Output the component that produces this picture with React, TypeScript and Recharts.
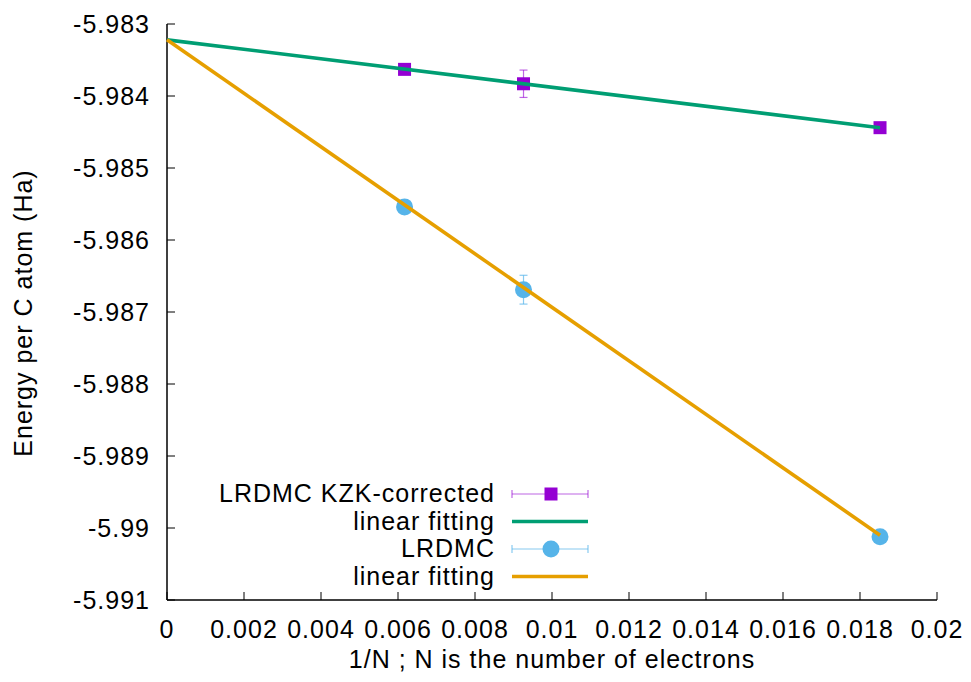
import React from 'react';
import { ScatterChart, Scatter, XAxis, YAxis, ErrorBar } from 'recharts';

// ---- data ----
const invN = [0.00617, 0.00926, 0.01852];
const kzkEnergy = [-5.98363, -5.98383, -5.98444];
const kzkErr = [0.00003, 0.00019, 0.00002];
const lrdmcEnergy = [-5.98554, -5.98669, -5.99012];
const lrdmcErr = [0.00003, 0.0002, 0.00003];
const fitX = [0, 0.01852];
const kzkFitY = [-5.98322, -5.98444];
const lrdmcFitY = [-5.98322, -5.9901];
const xTicks = [0, 0.002, 0.004, 0.006, 0.008, 0.01, 0.012, 0.014, 0.016, 0.018, 0.02];
const yTicks = [-5.991, -5.99, -5.989, -5.988, -5.987, -5.986, -5.985, -5.984, -5.983];
const legendNames = ['LRDMC KZK-corrected', 'linear fitting', 'LRDMC', 'linear fitting'];
const xTitle = '1/N ; N is the number of electrons';
const yTitle = 'Energy per C atom (Ha)';

const PURPLE = '#9400d3';
const GREEN = '#009e73';
const SKY = '#56b4e9';
const ORANGE = '#e69f00';

const kzkData = invN.map((x, i) => ({ x, y: kzkEnergy[i], err: kzkErr[i] }));
const lrdmcData = invN.map((x, i) => ({ x, y: lrdmcEnergy[i], err: lrdmcErr[i] }));
const kzkFit = fitX.map((x, i) => ({ x, y: kzkFitY[i] }));
const lrdmcFit = fitX.map((x, i) => ({ x, y: lrdmcFitY[i] }));

const fmt = (v: number) => {
  const s = v.toFixed(3).replace(/0+$/, '').replace(/\.$/, '');
  return s === '-0' ? '0' : s;
};

const Square = (p: any) => (
  <rect x={p.cx - 6.5} y={p.cy - 6.5} width={13} height={13} fill={PURPLE} />
);
const Dot = (p: any) => <circle cx={p.cx} cy={p.cy} r={8.5} fill={SKY} />;
const NoShape = () => <g />;

const FONT = 25;
const LW = 3.6;
const tickStyle = { fontSize: FONT, fill: '#000' };

export default function App() {
  const legendBase = [502, 529.5, 557, 584.5];
  const sx1 = 512;
  const sx2 = 588;
  const smid = 551;
  return (
    <div
      style={{
        position: 'absolute',
        left: 0,
        top: 0,
        width: 971,
        height: 682,
        background: '#fff',
        fontFamily: '"Liberation Sans", Arial, sans-serif',
        letterSpacing: '1px',
      }}
    >
      <ScatterChart width={971} height={682} margin={{ top: 24, right: 34, bottom: 0, left: 0 }}>
        <XAxis
          xAxisId={0}
          dataKey="x"
          type="number"
          domain={[0, 0.02]}
          ticks={xTicks}
          tickFormatter={fmt}
          orientation="bottom"
          height={82}
          tickSize={-8}
          tickMargin={28}
          tick={tickStyle}
          stroke="#000"
          axisLine={{ stroke: '#000', strokeWidth: 1.5 }}
          tickLine={{ stroke: '#000' }}
          interval={0}
        />
        <XAxis
          xAxisId="top"
          dataKey="x"
          type="number"
          domain={[0, 0.02]}
          ticks={xTicks}
          tickFormatter={() => ''}
          orientation="top"
          height={0}
          tickSize={-8}
          stroke="#000"
          axisLine={{ stroke: '#000', strokeWidth: 1.5 }}
          tickLine={{ stroke: '#000' }}
          interval={0}
        />
        <YAxis
          yAxisId={0}
          dataKey="y"
          type="number"
          domain={[-5.991, -5.983]}
          ticks={yTicks}
          tickFormatter={fmt}
          orientation="left"
          width={167}
          tickSize={-8}
          tickMargin={25}
          tick={tickStyle}
          stroke="#000"
          axisLine={{ stroke: '#000', strokeWidth: 1.5 }}
          tickLine={{ stroke: '#000' }}
          interval={0}
        />
        <YAxis
          yAxisId="right"
          dataKey="y"
          type="number"
          domain={[-5.991, -5.983]}
          ticks={yTicks}
          tickFormatter={() => ''}
          orientation="right"
          width={0}
          tickSize={-8}
          stroke="#000"
          axisLine={{ stroke: '#000', strokeWidth: 1.5 }}
          tickLine={{ stroke: '#000' }}
          interval={0}
        />
        <Scatter data={kzkData} shape={Square} isAnimationActive={false}>
          <ErrorBar dataKey="err" direction="y" width={4} stroke={PURPLE} strokeOpacity={0.6} strokeWidth={1.2} />
        </Scatter>
        <Scatter
          data={kzkFit}
          shape={NoShape}
          stroke={GREEN}
          strokeWidth={LW}
          fill="none"
          line={{ stroke: GREEN, strokeWidth: LW }}
          isAnimationActive={false}
        />
        <Scatter data={lrdmcData} shape={Dot} isAnimationActive={false}>
          <ErrorBar dataKey="err" direction="y" width={4} stroke={SKY} strokeOpacity={0.7} strokeWidth={1.2} />
        </Scatter>
        <Scatter
          data={lrdmcFit}
          shape={NoShape}
          stroke={ORANGE}
          strokeWidth={LW}
          fill="none"
          line={{ stroke: ORANGE, strokeWidth: LW }}
          isAnimationActive={false}
        />
      </ScatterChart>
      <svg
        width={971}
        height={682}
        style={{ position: 'absolute', left: 0, top: 0, pointerEvents: 'none' }}
      >
        <text x={552} y={668} textAnchor="middle" fontSize={FONT} fill="#000">
          {xTitle}
        </text>
        <text
          x={32}
          y={313}
          textAnchor="middle"
          fontSize={FONT}
          fill="#000"
          transform="rotate(-90 32 313)"
        >
          {yTitle}
        </text>
        {legendNames.map((n, i) => (
          <text key={i} x={495} y={legendBase[i]} textAnchor="end" fontSize={FONT} fill="#000">
            {n}
          </text>
        ))}
        {/* row 1: KZK points with error bar */}
        <g stroke={PURPLE} strokeOpacity={0.6} strokeWidth={1.2}>
          <line x1={sx1} y1={legendBase[0] - 8} x2={sx2} y2={legendBase[0] - 8} />
          <line x1={sx1} y1={legendBase[0] - 12} x2={sx1} y2={legendBase[0] - 4} />
          <line x1={sx2} y1={legendBase[0] - 12} x2={sx2} y2={legendBase[0] - 4} />
        </g>
        <rect x={smid - 6.5} y={legendBase[0] - 8 - 6.5} width={13} height={13} fill={PURPLE} />
        {/* row 2 */}
        <line x1={sx1} y1={legendBase[1] - 8} x2={sx2} y2={legendBase[1] - 8} stroke={GREEN} strokeWidth={LW} />
        {/* row 3 */}
        <g stroke={SKY} strokeOpacity={0.7} strokeWidth={1.2}>
          <line x1={sx1} y1={legendBase[2] - 8} x2={sx2} y2={legendBase[2] - 8} />
          <line x1={sx1} y1={legendBase[2] - 12} x2={sx1} y2={legendBase[2] - 4} />
          <line x1={sx2} y1={legendBase[2] - 12} x2={sx2} y2={legendBase[2] - 4} />
        </g>
        <circle cx={smid} cy={legendBase[2] - 8} r={8.5} fill={SKY} />
        {/* row 4 */}
        <line x1={sx1} y1={legendBase[3] - 8} x2={sx2} y2={legendBase[3] - 8} stroke={ORANGE} strokeWidth={LW} />
      </svg>
    </div>
  );
}
